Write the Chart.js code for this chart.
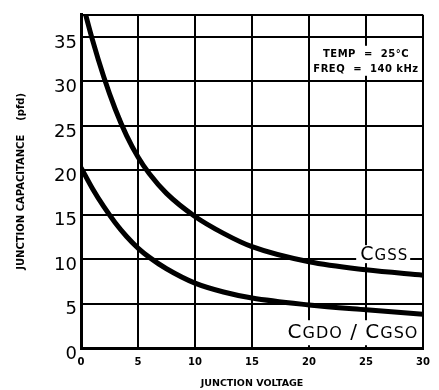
<!DOCTYPE html>
<html>
<head>
<meta charset="utf-8">
<script src="https://cdn.jsdelivr.net/npm/chart.js@4.4.1/dist/chart.umd.min.js"></script>
<style>
  html, body { margin: 0; padding: 0; background: #fff; }
  #wrap { width: 439px; height: 390px; }
</style>
</head>
<body>
<div id="wrap"><canvas id="capChart"></canvas></div>
<script>
// values
const voltage = [0, 1, 2, 3, 4, 5, 6, 7.5, 10, 12.5, 15, 20, 25, 30];
const cgss = [39.5, 34.7, 30.5, 26.9, 23.9, 21.5, 19.6, 17.4, 14.8, 12.9, 11.4, 9.7, 8.8, 8.2];
const cgdo = [20.3, 17.95, 15.9, 14.1, 12.55, 11.25, 10.2, 8.92, 7.3, 6.3, 5.62, 4.85, 4.3, 3.8];
const xTicks = [0, 5, 10, 15, 20, 25, 30];
const yTicks = [0, 5, 10, 15, 20, 25, 30, 35];
const yTop = 37.5;  // top edge of the grid

const noteLines = ['TEMP  =  25°C', 'FREQ  =  140 kHz'];

function points(ys) {
    return voltage.map((v, i) => ({ x: v, y: ys[i] }));
}

// draw text where the first letter is big and the rest are small caps
function drawCaps(ctx, parts, x, y) {
    let total = 0;
    parts.forEach(p => {
        ctx.font = p[1] + 'px "DejaVu Sans"';
        total += ctx.measureText(p[0]).width;
    });
    let cx = x - total;  // right aligned
    parts.forEach(p => {
        ctx.font = p[1] + 'px "DejaVu Sans"';
        ctx.fillText(p[0], cx, y);
        cx += ctx.measureText(p[0]).width;
    });
    return total;
}

const labelsPlugin = {
    id: 'curveLabels',
    afterDatasetsDraw(chart) {
        const ctx = chart.ctx;
        const xs = chart.scales.x, ys = chart.scales.y;
        ctx.save();

        // test conditions note
        const nx = xs.getPixelForValue(25);
        const ny = ys.getPixelForValue(33.0);
        ctx.fillStyle = '#fff';
        ctx.fillRect(nx - 52, ny - 9, 104, 30);
        ctx.fillStyle = '#000';
        ctx.font = 'bold 10px "DejaVu Sans"';
        ctx.textAlign = 'center';
        ctx.textBaseline = 'middle';
        ctx.letterSpacing = '0.5px';
        ctx.fillText(noteLines[0], nx, ny);
        ctx.fillText(noteLines[1], nx, ny + 15);

        ctx.textAlign = 'left';
        ctx.textBaseline = 'alphabetic';
        ctx.letterSpacing = '1px';

        // Cgss label
        const gx = xs.getPixelForValue(28.7);
        const gy = ys.getPixelForValue(10) + 1;
        ctx.fillStyle = '#fff';
        ctx.fillRect(gx - 52, gy - 15, 54, 18);
        ctx.fillStyle = '#000';
        drawCaps(ctx, [['C', 19], ['GSS', 15]], gx, gy);

        // Cgdo / Cgso label
        const dx = xs.getPixelForValue(29.6);
        const dy = ys.getPixelForValue(1.1);
        ctx.fillStyle = '#fff';
        ctx.fillRect(dx - 138, dy - 18, 140, 25);
        ctx.fillStyle = '#000';
        drawCaps(ctx, [['C', 20], ['GDO', 16], [' / ', 20], ['C', 20], ['GSO', 16]], dx, dy);
        ctx.restore();
    }
};

const ctx = document.getElementById('capChart').getContext('2d');
new Chart(ctx, {
    type: 'line',
    data: {
        datasets: [
            { label: 'Cgss', data: points(cgss) },
            { label: 'Cgdo / Cgso', data: points(cgdo) }
        ]
    },
    options: {
        responsive: true,
        maintainAspectRatio: false,
        animation: false,
        clip: 0,
        layout: { padding: { top: 7, right: 16, left: 0, bottom: 0 } },
        elements: {
            line: { borderColor: '#000', borderWidth: 5, cubicInterpolationMode: 'monotone', fill: false },
            point: { radius: 0 }
        },
        plugins: {
            legend: { display: false },
            tooltip: { enabled: false }
        },
        scales: {
            x: {
                type: 'linear',
                min: 0,
                max: 30,
                afterBuildTicks: scale => { scale.ticks = xTicks.map(v => ({ value: v })); },
                afterFit: scale => { scale.height = 42; },
                grid: { color: '#000', lineWidth: 2, drawTicks: false },
                border: { color: '#000', width: 3 },
                ticks: {
                    color: '#000',
                    padding: 8,
                    font: { family: 'DejaVu Sans', size: 10, weight: 'bold' }
                },
                title: {
                    display: true,
                    text: 'JUNCTION VOLTAGE',
                    color: '#000',
                    padding: { top: 0, bottom: 1 },
                    font: { family: 'DejaVu Sans', size: 9.5, weight: 'bold' }
                }
            },
            y: {
                min: 0,
                max: yTop,
                afterBuildTicks: scale => { scale.ticks = yTicks.concat([yTop]).map(v => ({ value: v })); },
                afterFit: scale => { scale.width = 81; },
                grid: { color: '#000', lineWidth: 2, drawTicks: false },
                border: { color: '#000', width: 3 },
                ticks: {
                    color: '#000',
                    padding: 4,
                    labelOffset: 6,
                    font: { family: 'DejaVu Sans', size: 18 },
                    callback: v => v === yTop ? '' : v
                },
                title: {
                    display: true,
                    text: 'JUNCTION CAPACITANCE    (pfd)',
                    color: '#000',
                    padding: { top: 15, bottom: 0 },
                    font: { family: 'DejaVu Sans', size: 10, weight: 'bold' }
                }
            }
        }
    },
    plugins: [labelsPlugin]
});
</script>
</body>
</html>
